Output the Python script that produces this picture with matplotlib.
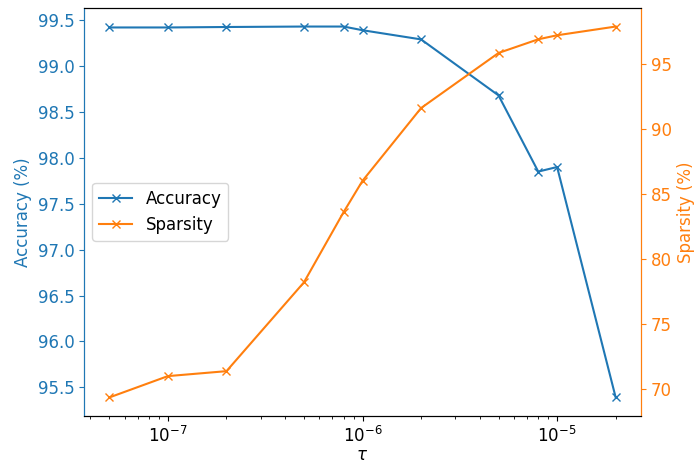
import numpy as np
import matplotlib

matplotlib.use("Agg")
import matplotlib.pyplot as plt

# threshold values and resulting metrics
tau = [5e-8, 1e-7, 2e-7, 5e-7, 8e-7, 1e-6, 2e-6, 5e-6, 8e-6, 1e-5, 2e-5]
accuracy = [99.42, 99.42, 99.425, 99.43, 99.43, 99.39, 99.29, 98.68, 97.85, 97.90, 95.39]
sparsity = [69.36, 71.0, 71.38, 78.2, 83.6, 86.0, 91.59, 95.82, 96.87, 97.18, 97.85]

plt.rcParams["font.size"] = 12

fig = plt.figure(figsize=(6.94, 4.61), dpi=100)
ax1 = fig.add_axes([84 / 694, 1 - 416 / 461, (641 - 84) / 694, (416 - 8) / 461])
ax2 = ax1.twinx()

c1 = "tab:blue"
c2 = "tab:orange"

l1, = ax1.plot(tau, accuracy, marker="x", color=c1, label="Accuracy")
l2, = ax2.plot(tau, sparsity, marker="x", color=c2, label="Sparsity")

ax1.set_xscale("log")
ax1.set_xlabel(r"$\tau$", labelpad=0)
ax1.set_ylabel("Accuracy (%)", color=c1)
ax2.set_ylabel("Sparsity (%)", color=c2)
ax1.tick_params(axis="y", colors=c1)
ax2.tick_params(axis="y", colors=c2)
ax1.spines["left"].set_color(c1)
ax2.spines["left"].set_color(c1)
ax2.spines["right"].set_color(c2)
ax1.spines["right"].set_color(c2)

ax1.legend(handles=[l1, l2], loc="center left", bbox_to_anchor=(0.0, 0.5))

fig.savefig("out.png", dpi=100)
